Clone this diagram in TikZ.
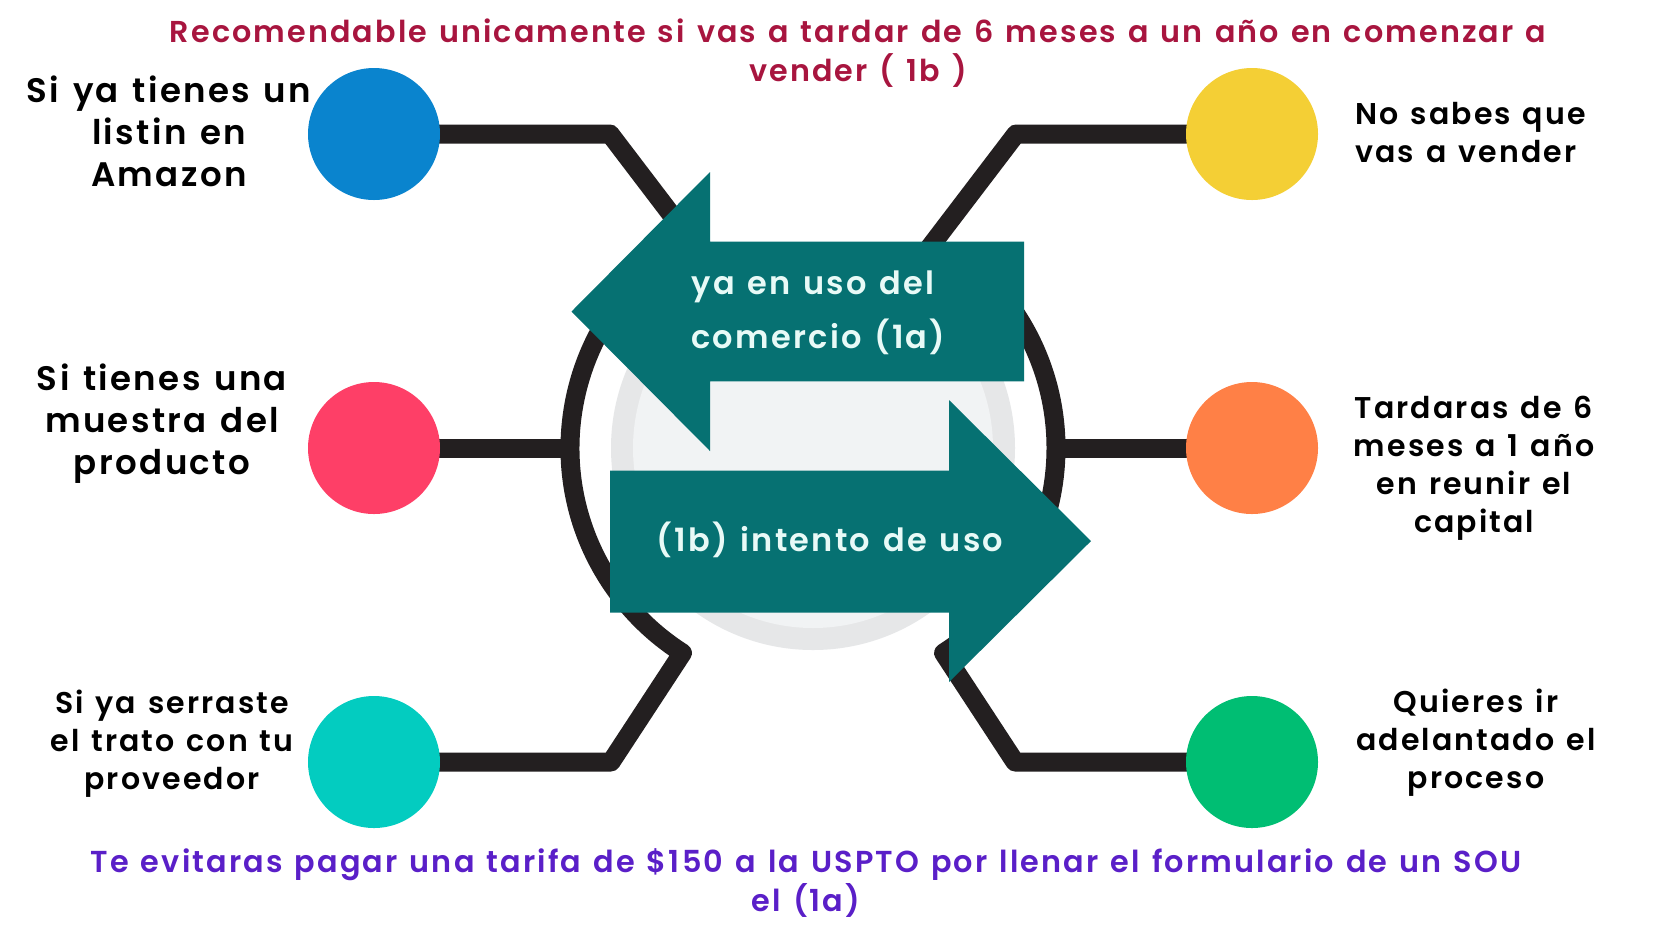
\documentclass[tikz,border=0pt]{standalone}
\usepackage{fontspec}
\setmainfont{Poppins}[BoldFont={Poppins SemiBold},LetterSpace=7,WordSpace=1.3]
\usetikzlibrary{calc}
\pgfdeclarelayer{back}
\pgfdeclarelayer{lines}
\pgfsetlayers{back,lines,main}
\definecolor{cblue}{HTML}{0A84CE}
\definecolor{cpink}{HTML}{FE3F67}
\definecolor{ccyan}{HTML}{03CCC0}
\definecolor{cyellow}{HTML}{F4CF35}
\definecolor{corange}{HTML}{FF8046}
\definecolor{cgreen}{HTML}{00BE73}
\definecolor{arrteal}{HTML}{067172}
\definecolor{lineblk}{HTML}{231F20}
\definecolor{gring}{HTML}{E6E7E8}
\definecolor{gfill}{HTML}{F1F3F4}
\definecolor{titlered}{HTML}{A8153F}
\definecolor{notepurple}{HTML}{5A1FC8}
\definecolor{arrowtxt}{HTML}{E8FAF7}
\begin{document}
\begin{tikzpicture}[x=0.5pt,y=-0.5pt,
  bubble/.style={circle,minimum size=66pt,inner sep=0pt,draw=none},
  conn/.style={draw=lineblk,line width=9.5pt,line join=round},
  lbl/.style={font=\fontsize{15pt}{19pt}\selectfont\bfseries,align=center,text=black,inner sep=0pt},
  biglbl/.style={font=\fontsize{17pt}{21pt}\selectfont\bfseries,align=center,text=black,inner sep=0pt},
  arrlbl/.style={font=\fontsize{16pt}{27pt}\selectfont\bfseries,text=arrowtxt,inner sep=0pt},
  bigarrow/.style={fill=arrteal,draw=none}]
\useasboundingbox (0,0) rectangle (1660,934);
\begin{pgfonlayer}{back}
\fill[white] (0,0) rectangle (1660,934);
% central disk
\node[circle,fill=gring,minimum size=202pt,inner sep=0pt] (disk) at (813,448) {};
\node[circle,fill=gfill,minimum size=180pt,inner sep=0pt] (diskin) at (813,448) {};
\end{pgfonlayer}

% coloured dots
\node[bubble,fill=cblue] (blue) at (374,134) {};
\node[bubble,fill=cpink] (pink) at (374,448) {};
\node[bubble,fill=ccyan] (cyan) at (374,762) {};
\node[bubble,fill=cyellow] (yellow) at (1252,134) {};
\node[bubble,fill=corange] (orange) at (1252,448) {};
\node[bubble,fill=cgreen] (green) at (1252,762) {};

% ring centre and bend points
\coordinate (ring) at (813,448);
\coordinate (ringW) at ($(ring)+(180:243)$);
\coordinate (ringE) at ($(ring)+(0:243)$);
\coordinate (b1) at (610,134);
\coordinate (b2) at ($(ring)+(239.5:243)$);
\coordinate (c1) at (611,762);
\coordinate (y1) at (1016,134);
\coordinate (y2) at (928,249.5);
\coordinate (y3) at ($(ring)+(-54:243)$);
\coordinate (g1) at (1015,762);

\begin{pgfonlayer}{lines}
\draw[conn] (blue.center) -- (b1) -- (b2) arc[start angle=239.5,end angle=122.5,radius=243] -- (c1) -- (cyan.center);
\draw[conn] (yellow.center) -- (y1) -- (y2);
\draw[conn] (y3) arc[start angle=-54,end angle=57.5,radius=243] -- (g1) -- (green.center);
\draw[conn] (pink.center) -- (ringW);
\draw[conn] (orange.center) -- (ringE);
\end{pgfonlayer}

% arrows
\fill[bigarrow] (571.5,311.5) -- (710,172) -- (710,241.7) -- (1024,241.7) -- (1024,381.3) -- (710,381.3) -- (710,451) -- cycle;
\fill[bigarrow] (1091,541) -- (949,400) -- (949,470.5) -- (610,470.5) -- (610,612.5) -- (949,612.5) -- (949,682) -- cycle;
\node[arrlbl,align=left,anchor=west] (ta) at (691,313) {ya en uso del\\comercio (1a)};
\node[arrlbl,align=center] (tb) at (830,540) {(1b) intento de uso};

% side labels
\node[biglbl] (l1) at (169,131) {Si ya tienes un\\listin en\\Amazon};
\node[biglbl] (l2) at (162,423.5) {Si tienes una\\muestra del\\producto};
\node[lbl] (l3) at (172,744) {Si ya serraste\\el trato con tu\\proveedor};
\node[lbl,align=left,anchor=west] (r1) at (1355,133) {No sabes que\\vas a vender};
\node[lbl] (r2) at (1474,468) {Tardaras de 6\\meses a 1 año\\en reunir el\\capital};
\node[lbl] (r3) at (1476,743) {Quieres ir\\adelantado el\\proceso};

% notes
\node[lbl,text=titlered,font=\fontsize{15.1pt}{19.5pt}\selectfont\bfseries] (top) at (858,53.5) {Recomendable unicamente si vas a tardar de 6 meses a un año en comenzar a\\vender ( 1b )};
\node[lbl,text=notepurple,font=\fontsize{15.15pt}{19.75pt}\selectfont\bfseries] (bot) at (806,883) {Te evitaras pagar una tarifa de \$150 a la USPTO por llenar el formulario de un SOU\\el (1a)};
\end{tikzpicture}
\end{document}
